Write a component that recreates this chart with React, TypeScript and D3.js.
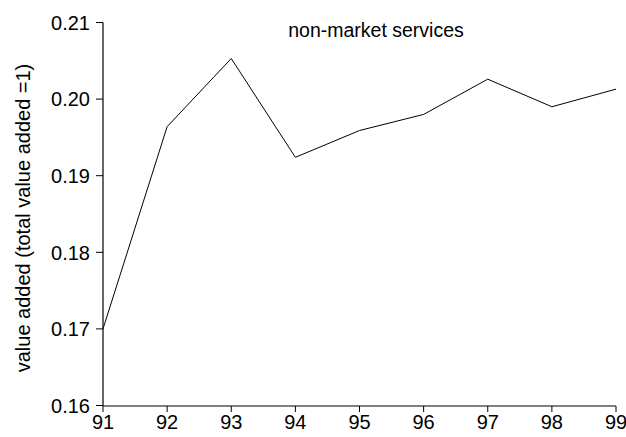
import React from "react";
import * as d3 from "d3";

const years = [91, 92, 93, 94, 95, 96, 97, 98, 99];
const values = [0.17, 0.1964, 0.2053, 0.1924, 0.1959, 0.198, 0.2026, 0.199, 0.2013];
const yTicks = [0.16, 0.17, 0.18, 0.19, 0.2, 0.21];
const title = "non-market services";
const yLabel = "value added (total value added =1)";

export default function App() {
  const W = 626, H = 437;
  const left = 103, right = 616, top = 22.5, bottom = 405.5;
  const x = d3.scaleLinear().domain([91, 99]).range([left, right]);
  const y = d3.scaleLinear().domain([0.16, 0.21]).range([bottom, top]);
  const line = d3.line<number>().x((_, i) => x(years[i])).y((d) => y(d));
  const font = "Liberation Sans, Arial, Helvetica, sans-serif";
  return (
    <svg width={W} height={H} style={{ position: "absolute", left: 0, top: 0, background: "#fff" }}>
      <rect width={W} height={H} fill="#fff" />
      <g fontFamily={font} fill="#000">
        <line x1={left} x2={left} y1={top} y2={bottom + 0.5} stroke="#000" strokeWidth={1.2} />
        <line x1={left} x2={right} y1={bottom + 0.5} y2={bottom + 0.5} stroke="#000" strokeWidth={1.2} />
        {yTicks.map((t) => (
          <g key={t}>
            <line x1={left - 7} x2={left} y1={y(t)} y2={y(t)} stroke="#000" strokeWidth={1} />
            <text x={90} y={y(t)} dy="0.36em" textAnchor="end" fontSize={20}>
              {t.toFixed(2)}
            </text>
          </g>
        ))}
        {years.map((yr) => (
          <g key={yr}>
            <line x1={x(yr)} x2={x(yr)} y1={bottom + 0.5} y2={bottom + 6.5} stroke="#000" strokeWidth={1} />
            <text x={x(yr)} y={bottom + 23} textAnchor="middle" fontSize={20}>
              {yr}
            </text>
          </g>
        ))}
        <path d={line(values) || ""} fill="none" stroke="#000" strokeWidth={1} />
        <text x={376} y={37} textAnchor="middle" fontSize={19.5}>
          {title}
        </text>
        <text transform={`translate(30,218) rotate(-90)`} textAnchor="middle" fontSize={20}>
          {yLabel}
        </text>
      </g>
    </svg>
  );
}
